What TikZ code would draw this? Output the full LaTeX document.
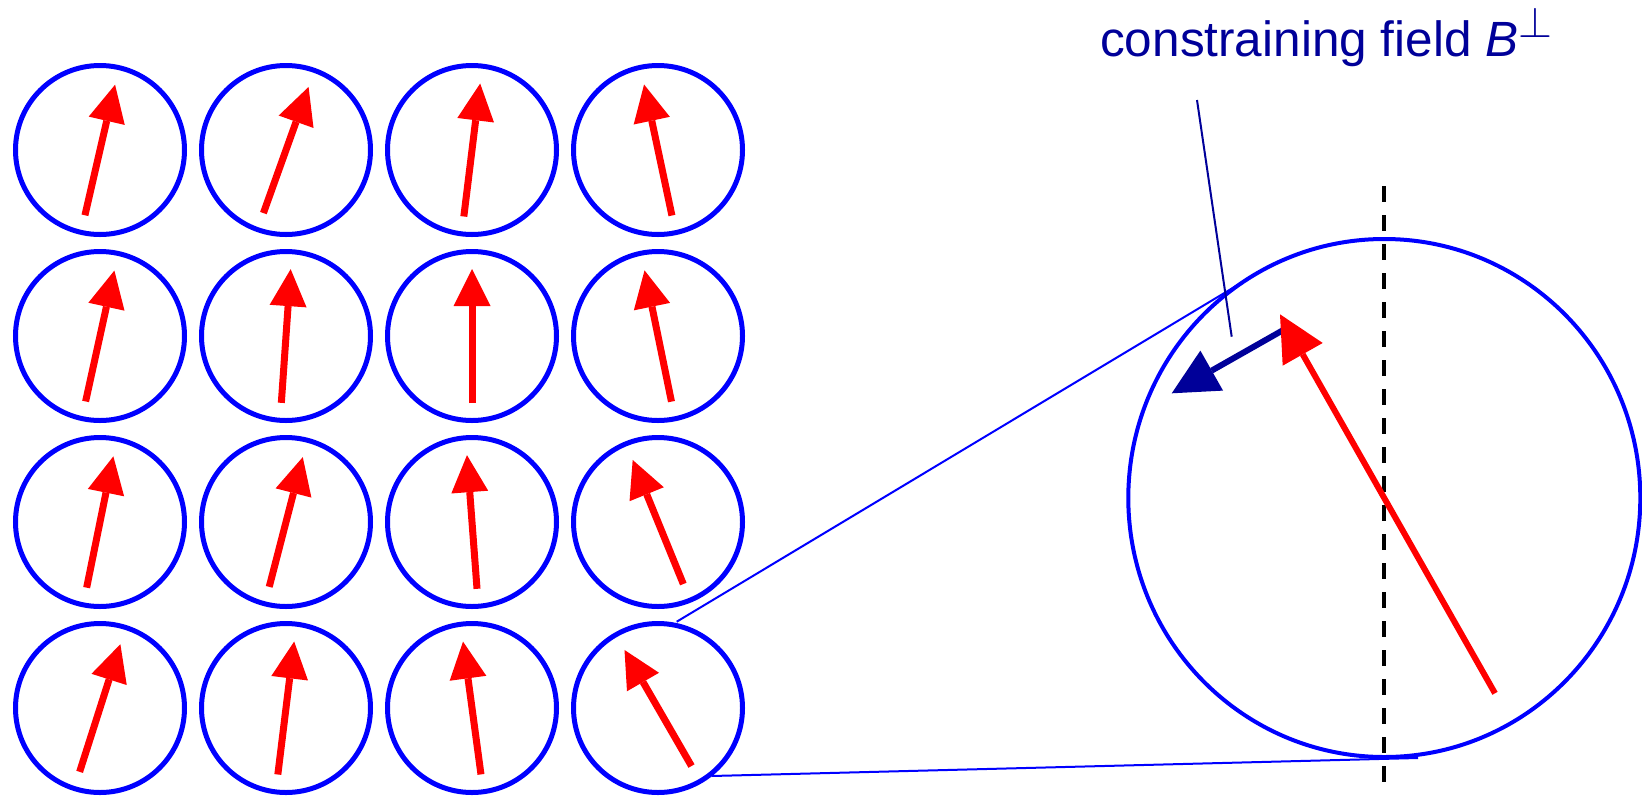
\documentclass[tikz,border=0pt]{standalone}
\usepackage{fontspec}
\setmainfont{Liberation Sans}
\usetikzlibrary{arrows.meta,calc}
\definecolor{cblue}{RGB}{0,0,255}
\definecolor{cred}{RGB}{255,0,0}
\definecolor{cnavy}{RGB}{0,0,153}
\tikzset{
  smallcirc/.style={circle, draw=cblue, line width=5pt, minimum size=169pt, inner sep=0pt},
  spin/.style={draw=cred, line width=7pt, -{Triangle[length=37pt,width=37pt,line width=0pt]}},
  bigspin/.style={draw=cred, line width=6pt, -{Triangle[length=46pt,width=46pt,line width=0pt]}},
  fieldarrow/.style={draw=cnavy, line width=6pt, -{Triangle[length=46pt,width=46pt,line width=0pt]}},
  zoomline/.style={draw=cblue, line width=2pt},
  pointer/.style={draw=cnavy, line width=2pt},
}
\newcommand{\spinarrow}[2]{\draw[spin] ($(#1)+({#2+90}:67)$) -- ($(#1)+({#2-90}:67)$);}
\begin{document}
\begin{tikzpicture}[x=1pt,y=-1pt]
\useasboundingbox (0,0) rectangle (1642,796);
% small circles
\foreach \c/\xx in {1/100,2/286,3/472,4/658}{
  \foreach \r/\yy in {1/150,2/336,3/522,4/708}{
    \node[smallcirc] (c\r\c) at (\xx,\yy) {};
  }
}
% spins
\spinarrow{c11}{13}
\spinarrow{c12}{19.7}
\spinarrow{c13}{7}
\spinarrow{c14}{-12}
\spinarrow{c21}{12.4}
\spinarrow{c22}{4}
\spinarrow{c23}{0}
\spinarrow{c24}{-11.6}
\spinarrow{c31}{11.5}
\spinarrow{c32}{14.5}
\spinarrow{c33}{-4.3}
\spinarrow{c34}{-22.2}
\spinarrow{c41}{17.7}
\spinarrow{c42}{7}
\spinarrow{c43}{-7.7}
\spinarrow{c44}{-30}
% big circle
\coordinate (big) at (1384.3,498);
\draw[cblue, line width=4pt] (big) ellipse [x radius=256, y radius=259];
% zoom lines
\coordinate (z1a) at (676.7,621.7);
\coordinate (z1b) at (1266,268);
\coordinate (z2a) at (711.7,776);
\coordinate (z2b) at (1418,758);
\draw[zoomline] (z1a) -- (z1b);
\draw[zoomline] (z2a) -- (z2b);
% dashed axis
\coordinate (dtop) at (1384,186);
\coordinate (dbot) at (1384,783.3);
\draw[black, line width=4.5pt, dash pattern=on 16.3pt off 12.7pt] (dtop) -- (dbot);
% field and big spin
\coordinate (nt) at (1287.5,327.6);
\coordinate (nh) at (1171.7,393.3);
\coordinate (rt) at (1495,693.3);
\coordinate (rh) at (1280,314.3);
\draw[fieldarrow] (nt) -- (nh);
\draw[bigspin] (rt) -- (rh);
% label and pointer
\coordinate (pa) at (1197,100);
\coordinate (pb) at (1231.7,336.7);
\draw[pointer] (pa) -- (pb);
\node[anchor=base west, inner sep=0pt, text=cnavy, font=\fontsize{49.5}{58}\selectfont] (lbl) at (1100,56.7)
  {constraining field \textit{B}\raisebox{19.5pt}{\scalebox{1.75}{$\perp$}}};
\end{tikzpicture}
\end{document}
